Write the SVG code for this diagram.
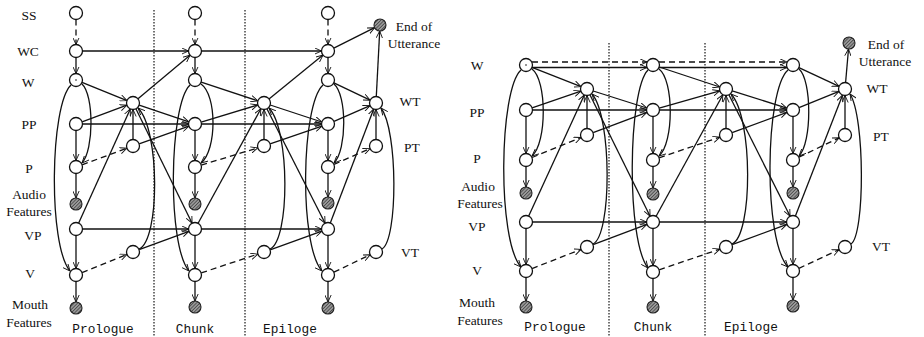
<svg xmlns="http://www.w3.org/2000/svg" width="924" height="337" viewBox="0 0 924 337">
<style>
.n{fill:#fff;stroke:#111;stroke-width:1.3}
.h{fill:url(#hatch);stroke:#222;stroke-width:1.1}
.c{fill:none;stroke:#111;stroke-width:1.3;marker-end:url(#arr)}
.d{stroke-dasharray:6 4}
.sep{stroke:#444;stroke-width:1.5;stroke-dasharray:1.5 1.5;fill:none}
.lb{font-family:"Liberation Serif","Times New Roman",serif;font-size:13.5px;fill:#111;text-anchor:middle}
.sec{font-family:"Liberation Mono","Courier New",monospace;font-size:12.8px;fill:#111;text-anchor:middle}
</style>
<defs>
<pattern id="hatch" patternUnits="userSpaceOnUse" width="2.4" height="2.4" patternTransform="rotate(45)">
<rect width="2.4" height="2.4" fill="#999"/>
<line x1="0" y1="0" x2="0" y2="2.4" stroke="#222" stroke-width="1.1"/>
</pattern>
<marker id="arr" viewBox="0 0 10 10" refX="10" refY="5" markerWidth="7" markerHeight="7" markerUnits="userSpaceOnUse" orient="auto">
<path d="M0,0.5 L10,5 L0,9.5" fill="none" stroke="#111" stroke-width="1.3"/>
</marker>
</defs>
<rect width="924" height="337" fill="#fff"/>

<g id="separators">
<line class="sep" x1="154" y1="10" x2="154" y2="337"/>
<line class="sep" x1="245" y1="10" x2="245" y2="337"/>
<line class="sep" x1="609" y1="43" x2="609" y2="337"/>
<line class="sep" x1="705" y1="43" x2="705" y2="337"/>
</g>

<g id="connectors">
<!-- LEFT column 1 -->
<path class="c d" d="M76,19.5 L76,44.5"/>
<path class="c" d="M76,57.5 L76,73.5"/>
<path class="c" d="M76,130.5 L76,160.5"/>
<path class="c" d="M76,173.5 L76,198"/>
<path class="c" d="M76,235.5 L76,268.5"/>
<path class="c" d="M76,281.5 L76,302"/>
<path class="c" d="M82,84 C94,95 94,150 82,163"/>
<path class="c" d="M71,85 C50,105 48,245 70,271"/>
<path class="c" d="M82,82.4 L127,100.6"/>
<path class="c" d="M82.1,121.8 L126.9,105.2"/>
<path class="c" d="M133,139.5 L133,109.5"/>
<path class="c d" d="M82.1,164.8 L126.9,148.2"/>
<path class="c d" d="M82,272.6 L127,254.4"/>
<path class="c" d="M78.7,223.1 L130.3,108.9"/>
<path class="c" d="M139,249 C160,240 160,130 138,108"/>
<!-- left 1->2 -->
<path class="c" d="M82.5,51 L188.5,51"/>
<path class="c" d="M82.5,124 L188.5,124"/>
<path class="c" d="M82.5,229 L188.5,229"/>
<path class="c" d="M138,98.8 L190,55.2"/>
<path class="c" d="M139.2,105.1 L188.8,121.9"/>
<path class="c" d="M139.1,143.8 L188.9,126.2"/>
<path class="c" d="M135.9,108.8 L192.1,223.2"/>
<path class="c" d="M139.1,249.7 L188.9,231.3"/>
<!-- LEFT column 2 -->
<path class="c d" d="M195,19.5 L195,44.5"/>
<path class="c" d="M195,57.5 L195,73.5"/>
<path class="c" d="M195,130.5 L195,160.5"/>
<path class="c" d="M195,173.5 L195,198"/>
<path class="c" d="M195,235.5 L195,268.5"/>
<path class="c" d="M195,281.5 L195,301"/>
<path class="c" d="M201,84 C217,95 217,150 201,163"/>
<path class="c" d="M190,85 C169,105 167,245 189,271"/>
<path class="c" d="M201.2,82.1 L257.8,100.9"/>
<path class="c" d="M201.2,122.1 L257.8,104.9"/>
<path class="c" d="M264,139.5 L264,109.5"/>
<path class="c d" d="M201.2,165.1 L257.8,147.9"/>
<path class="c d" d="M201.2,272.9 L257.8,254.1"/>
<path class="c" d="M198.1,223.3 L260.9,108.7"/>
<path class="c" d="M270,249 C290,240 290,130 269,108"/>
<!-- left 2->3 -->
<path class="c" d="M201.5,51 L321.5,51"/>
<path class="c" d="M201.5,124 L321.5,124"/>
<path class="c" d="M201.5,229 L321.5,229"/>
<path class="c" d="M269,98.9 L323,55.1"/>
<path class="c" d="M270.2,105 L321.8,122"/>
<path class="c" d="M270.1,143.9 L321.9,126.1"/>
<path class="c" d="M266.9,108.8 L325.1,223.2"/>
<path class="c" d="M270.1,249.8 L321.9,231.2"/>
<!-- LEFT column 3 -->
<path class="c d" d="M328,19.5 L328,44.5"/>
<path class="c" d="M328,57.5 L328,73.5"/>
<path class="c" d="M328,130.5 L328,160.5"/>
<path class="c" d="M328,173.5 L328,197"/>
<path class="c" d="M328,235.5 L328,268.5"/>
<path class="c" d="M328,281.5 L328,302"/>
<path class="c" d="M334,84 C347,95 347,150 334,163"/>
<path class="c" d="M323,85 C301,105 299,245 322,271"/>
<path class="c" d="M333.9,82.8 L370.1,100.2"/>
<path class="c" d="M334,121.4 L370,105.6"/>
<path class="c" d="M376,139.5 L376,109.5"/>
<path class="c d" d="M334,164.4 L370,148.6"/>
<path class="c d" d="M333.9,272.2 L370.1,254.8"/>
<path class="c" d="M330.3,222.9 L373.7,108.9"/>
<path class="c" d="M382,249 C398,240 398,130 381,108"/>
<path class="c" d="M333.8,48.1 L374.6,27.7"/>
<path class="c" d="M376.3,96.5 L379.7,31"/>

<!-- RIGHT column 1 -->
<path class="c" d="M526,116.5 L526,153.5"/>
<path class="c" d="M526,166.5 L526,187"/>
<path class="c" d="M526,228.5 L526,264.5"/>
<path class="c" d="M526,277.5 L526,301"/>
<path class="c" d="M532,69 C547,80 547,143 532,156"/>
<path class="c" d="M521,70 C499,90 497,240 521,267"/>
<path class="c" d="M532,67.4 L581,86.6"/>
<path class="c" d="M532.1,107.9 L580.9,91.1"/>
<path class="c" d="M587,128.5 L587,95.5"/>
<path class="c d" d="M532,157.5 L581,137.5"/>
<path class="c d" d="M532,268.6 L581,249.4"/>
<path class="c" d="M528.7,216.1 L584.3,94.9"/>
<path class="c" d="M593,244 C612,235 612,117 592,94"/>
<!-- right 1->2 -->
<path class="c d" d="M532,62 L647,62"/>
<path class="c" d="M532,67.5 L647,67.5"/>
<path class="c" d="M532.5,110 L646.5,110"/>
<path class="c" d="M532.5,222 L646.5,222"/>
<path class="c" d="M593.2,91 L646.8,108"/>
<path class="c" d="M593.1,132.7 L646.9,112.3"/>
<path class="c" d="M589.9,94.8 L650.1,216.2"/>
<path class="c" d="M593.1,244.7 L646.9,224.3"/>
<!-- RIGHT column 2 -->
<path class="c" d="M653,116.5 L653,153.5"/>
<path class="c" d="M653,166.5 L653,188"/>
<path class="c" d="M653,228.5 L653,265.5"/>
<path class="c" d="M653,278.5 L653,301"/>
<path class="c" d="M659,69 C674,80 674,143 659,156"/>
<path class="c" d="M648,70 C628,90 626,240 648,268"/>
<path class="c" d="M659.2,67 L719.8,87"/>
<path class="c" d="M659.2,108.2 L719.8,90.8"/>
<path class="c" d="M726,128.5 L726,95.5"/>
<path class="c d" d="M659.1,157.9 L719.9,137.1"/>
<path class="c d" d="M659.1,269.9 L719.9,249.1"/>
<path class="c" d="M656.1,216.3 L722.9,94.7"/>
<path class="c" d="M732,244 C753,235 753,117 731,94"/>
<!-- right 2->3 -->
<path class="c d" d="M659,62 L787,62"/>
<path class="c" d="M659,67.5 L787,67.5"/>
<path class="c" d="M659.5,110 L786.5,110"/>
<path class="c" d="M659.5,222 L786.5,222"/>
<path class="c" d="M732.2,90.9 L786.8,108.1"/>
<path class="c" d="M732.1,132.7 L786.9,112.3"/>
<path class="c" d="M728.9,94.8 L790.1,216.2"/>
<path class="c" d="M732.1,244.7 L786.9,224.3"/>
<!-- RIGHT column 3 -->
<path class="c" d="M793,116.5 L793,153.5"/>
<path class="c" d="M793,166.5 L793,187"/>
<path class="c" d="M793,228.5 L793,264.5"/>
<path class="c" d="M793,277.5 L793,300"/>
<path class="c" d="M799,69 C812,80 812,143 799,156"/>
<path class="c" d="M788,70 C765,90 763,240 788,267"/>
<path class="c" d="M798.9,67.7 L839.1,86.3"/>
<path class="c" d="M799,107.6 L839,91.4"/>
<path class="c" d="M845,128.5 L845,95.5"/>
<path class="c d" d="M798.9,157.2 L839.1,137.8"/>
<path class="c d" d="M798.9,268.3 L839.1,249.7"/>
<path class="c" d="M795.4,215.9 L842.6,95"/>
<path class="c" d="M851,244 C865,235 865,117 850,94"/>
<path class="c" d="M845.6,82.5 L848.5,49"/>
</g>

<!-- LEFT nodes -->
<g id="L-SS1"><circle class="n" cx="76" cy="13" r="6.5"/></g>
<g id="L-WC1"><circle class="n" cx="76" cy="51" r="6.5"/></g>
<g id="L-W1"><circle class="n" cx="76" cy="80" r="6.5"/><circle cx="76" cy="80" r="0.8" fill="#111"/></g>
<g id="L-PP1"><circle class="n" cx="76" cy="124" r="6.5"/></g>
<g id="L-P1"><circle class="n" cx="76" cy="167" r="6.5"/></g>
<g id="L-A1"><circle class="h" cx="76" cy="204" r="6"/></g>
<g id="L-VP1"><circle class="n" cx="76" cy="229" r="6.5"/></g>
<g id="L-V1"><circle class="n" cx="76" cy="275" r="6.5"/></g>
<g id="L-M1"><circle class="h" cx="76" cy="308" r="6"/></g>
<g id="L-WT1"><circle class="n" cx="133" cy="103" r="6.5"/></g>
<g id="L-PT1"><circle class="n" cx="133" cy="146" r="6.5"/></g>
<g id="L-VT1"><circle class="n" cx="133" cy="252" r="6.5"/></g>

<g id="L-SS2"><circle class="n" cx="195" cy="13" r="6.5"/></g>
<g id="L-WC2"><circle class="n" cx="195" cy="51" r="6.5"/></g>
<g id="L-W2"><circle class="n" cx="195" cy="80" r="6.5"/></g>
<g id="L-PP2"><circle class="n" cx="195" cy="124" r="6.5"/></g>
<g id="L-P2"><circle class="n" cx="195" cy="167" r="6.5"/></g>
<g id="L-A2"><circle class="h" cx="195" cy="204" r="6"/></g>
<g id="L-VP2"><circle class="n" cx="195" cy="229" r="6.5"/></g>
<g id="L-V2"><circle class="n" cx="195" cy="275" r="6.5"/></g>
<g id="L-M2"><circle class="h" cx="195" cy="307" r="6"/></g>
<g id="L-WT2"><circle class="n" cx="264" cy="103" r="6.5"/></g>
<g id="L-PT2"><circle class="n" cx="264" cy="146" r="6.5"/></g>
<g id="L-VT2"><circle class="n" cx="264" cy="252" r="6.5"/></g>

<g id="L-SS3"><circle class="n" cx="328" cy="13" r="6.5"/></g>
<g id="L-WC3"><circle class="n" cx="328" cy="51" r="6.5"/></g>
<g id="L-W3"><circle class="n" cx="328" cy="80" r="6.5"/></g>
<g id="L-PP3"><circle class="n" cx="328" cy="124" r="6.5"/></g>
<g id="L-P3"><circle class="n" cx="328" cy="167" r="6.5"/></g>
<g id="L-A3"><circle class="h" cx="328" cy="203" r="6"/></g>
<g id="L-VP3"><circle class="n" cx="328" cy="229" r="6.5"/></g>
<g id="L-V3"><circle class="n" cx="328" cy="275" r="6.5"/></g>
<g id="L-M3"><circle class="h" cx="328" cy="308" r="6"/></g>
<g id="L-WT3"><circle class="n" cx="376" cy="103" r="6.5"/></g>
<g id="L-PT3"><circle class="n" cx="376" cy="146" r="6.5"/></g>
<g id="L-VT3"><circle class="n" cx="376" cy="252" r="6.5"/></g>
<g id="L-EOU"><circle class="h" cx="380" cy="25" r="6"/></g>

<!-- RIGHT nodes -->
<g id="R-W1"><circle class="n" cx="526" cy="65" r="6.5"/><circle cx="526" cy="65" r="0.8" fill="#111"/></g>
<g id="R-PP1"><circle class="n" cx="526" cy="110" r="6.5"/></g>
<g id="R-P1"><circle class="n" cx="526" cy="160" r="6.5"/></g>
<g id="R-A1"><circle class="h" cx="526" cy="193" r="6"/></g>
<g id="R-VP1"><circle class="n" cx="526" cy="222" r="6.5"/></g>
<g id="R-V1"><circle class="n" cx="526" cy="271" r="6.5"/></g>
<g id="R-M1"><circle class="h" cx="526" cy="307" r="6"/></g>
<g id="R-WT1"><circle class="n" cx="587" cy="89" r="6.5"/></g>
<g id="R-PT1"><circle class="n" cx="587" cy="135" r="6.5"/></g>
<g id="R-VT1"><circle class="n" cx="587" cy="247" r="6.5"/></g>

<g id="R-W2"><circle class="n" cx="653" cy="65" r="6.5"/></g>
<g id="R-PP2"><circle class="n" cx="653" cy="110" r="6.5"/></g>
<g id="R-P2"><circle class="n" cx="653" cy="160" r="6.5"/></g>
<g id="R-A2"><circle class="h" cx="653" cy="194" r="6"/></g>
<g id="R-VP2"><circle class="n" cx="653" cy="222" r="6.5"/></g>
<g id="R-V2"><circle class="n" cx="653" cy="272" r="6.5"/></g>
<g id="R-M2"><circle class="h" cx="653" cy="307" r="6"/></g>
<g id="R-WT2"><circle class="n" cx="726" cy="89" r="6.5"/></g>
<g id="R-PT2"><circle class="n" cx="726" cy="135" r="6.5"/></g>
<g id="R-VT2"><circle class="n" cx="726" cy="247" r="6.5"/></g>

<g id="R-W3"><circle class="n" cx="793" cy="65" r="6.5"/></g>
<g id="R-PP3"><circle class="n" cx="793" cy="110" r="6.5"/></g>
<g id="R-P3"><circle class="n" cx="793" cy="160" r="6.5"/></g>
<g id="R-A3"><circle class="h" cx="793" cy="193" r="6"/></g>
<g id="R-VP3"><circle class="n" cx="793" cy="222" r="6.5"/></g>
<g id="R-V3"><circle class="n" cx="793" cy="271" r="6.5"/></g>
<g id="R-M3"><circle class="h" cx="793" cy="306" r="6"/></g>
<g id="R-WT3"><circle class="n" cx="845" cy="89" r="6.5"/></g>
<g id="R-PT3"><circle class="n" cx="845" cy="135" r="6.5"/></g>
<g id="R-VT3"><circle class="n" cx="845" cy="247" r="6.5"/></g>
<g id="R-EOU"><circle class="h" cx="849" cy="43" r="6"/></g>

<g id="labels">
<text class="lb" x="29" y="20">SS</text>
<text class="lb" x="28" y="56">WC</text>
<text class="lb" x="28" y="87">W</text>
<text class="lb" x="29" y="129">PP</text>
<text class="lb" x="29" y="173">P</text>
<text class="lb" x="29" y="199">Audio</text>
<text class="lb" x="29" y="216">Features</text>
<text class="lb" x="33" y="240">VP</text>
<text class="lb" x="30" y="278">V</text>
<text class="lb" x="30" y="309">Mouth</text>
<text class="lb" x="29" y="327">Features</text>
<text class="lb" x="414" y="31">End of</text>
<text class="lb" x="414" y="48">Utterance</text>
<text class="lb" x="410" y="106">WT</text>
<text class="lb" x="412" y="152">PT</text>
<text class="lb" x="410" y="257">VT</text>
<text class="sec" x="103" y="333">Prologue</text>
<text class="sec" x="195" y="333">Chunk</text>
<text class="sec" x="290" y="333">Epiloge</text>

<text class="lb" x="477" y="70">W</text>
<text class="lb" x="477" y="117">PP</text>
<text class="lb" x="477" y="163">P</text>
<text class="lb" x="478" y="191">Audio</text>
<text class="lb" x="480" y="208">Features</text>
<text class="lb" x="477" y="231">VP</text>
<text class="lb" x="477" y="275">V</text>
<text class="lb" x="477" y="307">Mouth</text>
<text class="lb" x="480" y="325">Features</text>
<text class="lb" x="886" y="49">End of</text>
<text class="lb" x="885" y="66">Utterance</text>
<text class="lb" x="877" y="93">WT</text>
<text class="lb" x="881" y="141">PT</text>
<text class="lb" x="881" y="251">VT</text>
<text class="sec" x="555" y="331">Prologue</text>
<text class="sec" x="653" y="331">Chunk</text>
<text class="sec" x="751" y="331">Epiloge</text>
</g>
</svg>
